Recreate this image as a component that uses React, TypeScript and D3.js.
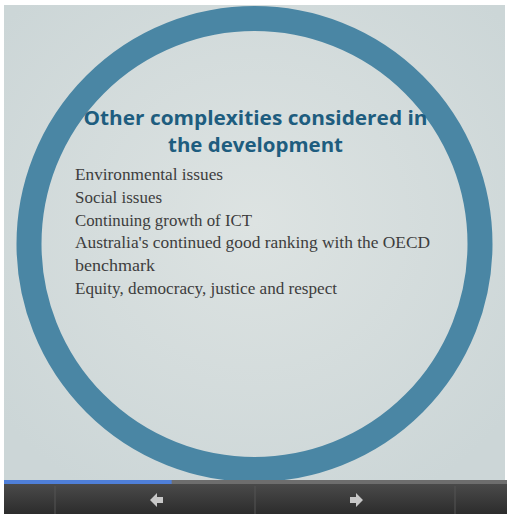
import * as d3 from "d3";
import { useEffect } from "react";
import * as React from "react";

// Slide content
const titleLines = ["Other complexities considered in", "the development"];
const bodyLines = [
  "Environmental issues",
  "Social issues",
  "Continuing growth of ICT",
  "Australia's continued good ranking with the OECD",
  "benchmark",
  "Equity, democracy, justice and respect",
];
// measured widths of each text line in the reference (px)
const titleWidths = [344, 175];
const bodyWidths = [148, 87, 177, 355, 80, 262];
// player state: current slide / total slides
const slideIndex = [1];
const slideCount = [3];

const W = 507;
const H = 514;

const Slide: React.FC = () => {
  useEffect(() => {
    const svg = d3
      .select("#slide")
      .append("svg")
      .attr("width", W)
      .attr("height", H)
      .style("position", "absolute")
      .style("left", "0px")
      .style("top", "0px");

    const defs = svg.append("defs");
    const bg = defs
      .append("radialGradient")
      .attr("id", "bg")
      .attr("cx", "50%")
      .attr("cy", "45%")
      .attr("r", "65%");
    bg.append("stop").attr("offset", "0%").attr("stop-color", "#dde3e2");
    bg.append("stop").attr("offset", "100%").attr("stop-color", "#ccd6d7");

    const bar = defs
      .append("linearGradient")
      .attr("id", "bar")
      .attr("x1", 0)
      .attr("y1", 0)
      .attr("x2", 0)
      .attr("y2", 1);
    bar.append("stop").attr("offset", "0%").attr("stop-color", "#4a4a4a");
    bar.append("stop").attr("offset", "100%").attr("stop-color", "#2c2c2c");

    // white frame + slide background
    svg.append("rect").attr("width", W).attr("height", H).attr("fill", "#ffffff");
    svg
      .append("rect")
      .attr("x", 4)
      .attr("y", 5)
      .attr("width", 501)
      .attr("height", 480)
      .attr("fill", "url(#bg)");

    // ring
    const cx = 254.5;
    const cy = 244;
    svg
      .append("circle")
      .attr("cx", cx)
      .attr("cy", cy)
      .attr("r", 225.5)
      .attr("fill", "none")
      .attr("stroke", "#4a86a4")
      .attr("stroke-width", 25);

    // title
    svg
      .selectAll("text.title")
      .data(titleLines)
      .enter()
      .append("text")
      .attr("class", "title")
      .attr("x", cx + 1)
      .attr("y", (_d, i) => 125 + i * 27)
      .attr("text-anchor", "middle")
      .attr("textLength", (_d, i) => titleWidths[i])
      .attr("lengthAdjust", "spacingAndGlyphs")
      .style("font-family", "'Open Sans', 'Noto Sans', sans-serif")
      .style("font-weight", 700)
      .style("font-size", "20px")
      .attr("fill", "#1e5d7f")
      .text((d) => d);

    // body lines
    svg
      .selectAll("text.body")
      .data(bodyLines)
      .enter()
      .append("text")
      .attr("class", "body")
      .attr("x", 75)
      .attr("y", (_d, i) => 180 + i * 22.8)
      .attr("textLength", (_d, i) => bodyWidths[i])
      .attr("lengthAdjust", "spacingAndGlyphs")
      .style("font-family", "'Liberation Serif', 'DejaVu Serif', serif")
      .style("font-size", "16px")
      .attr("fill", "#3d3d3d")
      .text((d) => d);

    // player bar
    svg
      .append("rect")
      .attr("x", 4)
      .attr("y", 484)
      .attr("width", W - 4)
      .attr("height", H - 484)
      .attr("fill", "url(#bar)");

    // progress track + fill
    const px = d3.scaleLinear().domain([0, slideCount[0]]).range([4, W]);
    svg
      .append("rect")
      .attr("x", 4)
      .attr("y", 480)
      .attr("width", W - 4)
      .attr("height", 4)
      .attr("fill", "#6e6e6e");
    svg
      .append("rect")
      .attr("x", 4)
      .attr("y", 480)
      .attr("width", px(slideIndex[0]) - 4)
      .attr("height", 4)
      .attr("fill", "#4f7fd8");

    // separators
    [55, 255, 455].forEach((sx) => {
      svg
        .append("line")
        .attr("x1", sx)
        .attr("x2", sx)
        .attr("y1", 486)
        .attr("y2", H)
        .attr("stroke", "#555")
        .attr("stroke-width", 1);
    });

    // arrows
    const arrow = (x: number, dir: number) =>
      `M${x - 7 * dir},500 L${x},493 L${x},497 L${x + 6 * dir},497 L${x + 6 * dir},503 L${x},503 L${x},507 Z`;
    svg.append("path").attr("d", arrow(157, 1)).attr("fill", "#c8c8c8");
    svg.append("path").attr("d", arrow(356, -1)).attr("fill", "#c8c8c8");

    return () => {
      d3.select("#slide").select("svg").remove();
    };
  });

  return <div id="slide"></div>;
};

export default function App() {
  return <Slide />;
}
